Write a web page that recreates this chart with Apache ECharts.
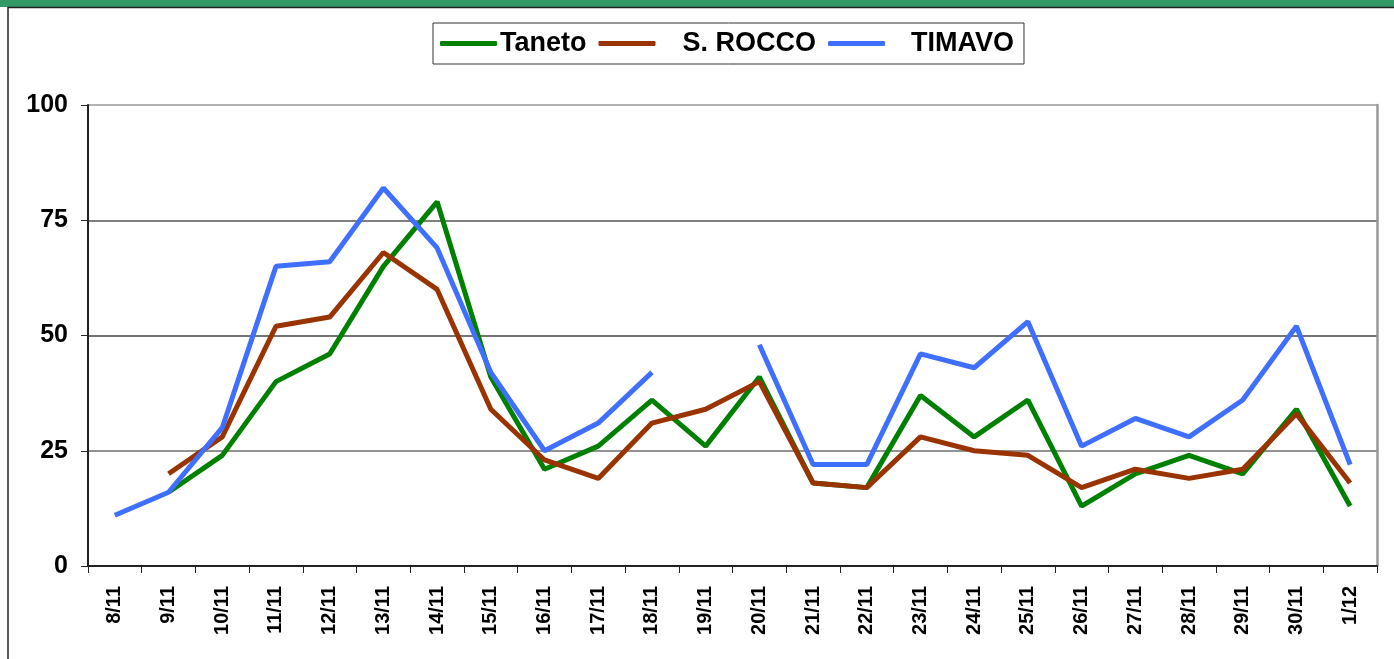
<!DOCTYPE html>
<html>
<head>
<meta charset="utf-8">
<script src="https://cdn.jsdelivr.net/npm/echarts@6/dist/echarts.min.js"></script>
<style>
    html, body { margin: 0; padding: 0; background: #fff; }
    #chart { width: 1394px; height: 659px; }
</style>
</head>
<body>
<div id="chart"></div>
<script>
(function () {
    'use strict';

    var days = ['8/11', '9/11', '10/11', '11/11', '12/11', '13/11', '14/11', '15/11', '16/11', '17/11', '18/11', '19/11',
        '20/11', '21/11', '22/11', '23/11', '24/11', '25/11', '26/11', '27/11', '28/11', '29/11', '30/11', '1/12'];
    var taneto = [null, 16, 24, 40, 46, 65, 79, 41, 21, 26, 36, 26, 41, 18, 17, 37, 28, 36, 13, 20, 24, 20, 34, 13];
    var sRocco = [null, 20, 28, 52, 54, 68, 60, 34, 23, 19, 31, 34, 40, 18, 17, 28, 25, 24, 17, 21, 19, 21, 33, 18];
    var timavo = [11, 16, 30, 65, 66, 82, 69, 42, 25, 31, 42, null, 48, 22, 22, 46, 43, 53, 26, 32, 28, 36, 52, 22];
    var yTicks = [0, 25, 50, 75, 100];

    var font = 'Arial, "Liberation Sans", sans-serif';

    function lineSeries(name, data, color) {
        return {
            name: name,
            type: 'line',
            data: data,
            showSymbol: false,
            symbol: 'none',
            connectNulls: false,
            lineStyle: { color: color, width: 5 },
            itemStyle: { color: color }
        };
    }

    var chart = echarts.init(document.getElementById('chart'));
    chart.setOption({
        animation: false,
        backgroundColor: '#fff',
        graphic: [
            { type: 'rect', left: 0, top: 0, shape: { width: 1394, height: 7 }, style: { fill: '#339966' } },
            { type: 'polyline', shape: { points: [[8, 700], [8, 7.5], [1400, 7.5]] }, style: { stroke: '#222', lineWidth: 1.5, fill: null } }
        ],
        legend: {
            left: 433,
            top: 23,
            width: 597,
            height: 42,
            padding: [7, 10, 7, 7],
            borderColor: '#333',
            borderWidth: 1,
            icon: 'roundRect',
            itemWidth: 57,
            itemHeight: 5,
            itemGap: 12,
            textStyle: { fontFamily: font, fontWeight: 'bold', fontSize: 27, color: '#000' },
            data: [
                { name: 'Taneto', textStyle: { padding: [0, 0, 0, -2] } },
                { name: 'S. ROCCO', textStyle: { padding: [0, 0, 0, 22] } },
                { name: 'TIMAVO', textStyle: { padding: [0, 0, 0, 21] } }
            ]
        },
        grid: { left: 88, right: 17, top: 105, bottom: 93 },
        xAxis: {
            type: 'category',
            data: days,
            boundaryGap: true,
            axisLine: { lineStyle: { color: '#222', width: 2 } },
            axisTick: { show: true, interval: 0, length: 7, lineStyle: { color: '#222' } },
            axisLabel: {
                interval: 0,
                rotate: 90,
                margin: 20,
                fontFamily: font,
                fontWeight: 'bold',
                fontSize: 20,
                color: '#000'
            }
        },
        yAxis: [{
            type: 'value',
            min: yTicks[0],
            max: yTicks[yTicks.length - 1],
            interval: 25,
            axisLine: { show: true, lineStyle: { color: '#222', width: 2 } },
            axisTick: { show: true, length: 7, lineStyle: { color: '#222' } },
            axisLabel: { margin: 20, fontFamily: font, fontWeight: 'bold', fontSize: 25, color: '#000' },
            splitLine: {
                show: true,
                lineStyle: { color: ['#222', '#6e6e6e', '#444', '#555', '#999'], width: 1.5 }
            }
        }, {
            type: 'value',
            position: 'right',
            min: 0,
            max: 100,
            axisLine: { show: true, lineStyle: { color: '#999', width: 2.5 } },
            axisTick: { show: false },
            axisLabel: { show: false },
            splitLine: { show: false }
        }],
        series: [
            lineSeries('Taneto', taneto, '#008000'),
            lineSeries('S. ROCCO', sRocco, '#993300'),
            lineSeries('TIMAVO', timavo, '#3f6fff')
        ]
    });
})();
</script>
</body>
</html>
